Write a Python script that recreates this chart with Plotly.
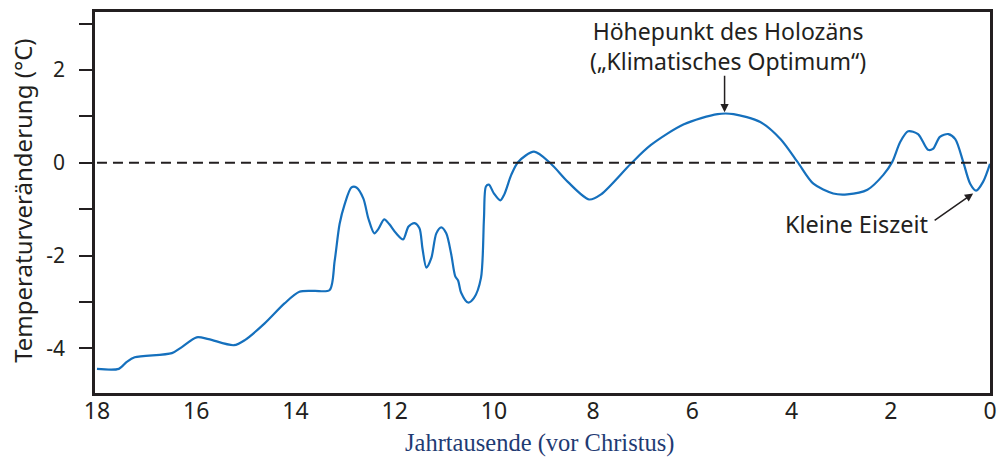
import plotly.graph_objects as go

# Jahrtausende vor Christus (x) and Temperaturveränderung in °C (y)
jahrtausende = [18.0, 17.56, 17.40, 17.24, 16.49, 16.29, 15.99, 15.75, 15.24, 15.02, 14.62, 14.22,
                13.92, 13.62, 13.31, 13.21, 13.11, 13.01, 12.87, 12.77, 12.63, 12.53, 12.41, 12.33,
                12.21, 12.11, 11.97, 11.83, 11.72, 11.60, 11.50, 11.44, 11.36, 11.26, 11.16, 11.06,
                10.96, 10.86, 10.78, 10.72, 10.66, 10.52, 10.40, 10.26, 10.20, 10.16, 10.10, 10.00,
                9.87, 9.79, 9.65, 9.51, 9.19, 8.85, 8.51, 8.08, 7.84, 7.24, 6.84, 6.17, 5.49, 5.17,
                4.63, 4.22, 3.88, 3.56, 3.16, 2.88, 2.47, 2.15, 1.97, 1.81, 1.65, 1.45, 1.25, 1.15,
                1.01, 0.84, 0.70, 0.54, 0.40, 0.28, 0.14, 0.0]
temperatur = [-4.44, -4.44, -4.29, -4.19, -4.10, -3.97, -3.76, -3.80, -3.93, -3.82, -3.46, -3.03,
              -2.78, -2.76, -2.74, -2.12, -1.32, -0.90, -0.53, -0.53, -0.77, -1.20, -1.52, -1.43,
              -1.22, -1.32, -1.52, -1.65, -1.37, -1.30, -1.41, -1.84, -2.26, -2.05, -1.52, -1.39,
              -1.52, -1.97, -2.44, -2.54, -2.80, -3.01, -2.91, -2.48, -1.20, -0.51, -0.47, -0.66,
              -0.81, -0.68, -0.26, 0.02, 0.24, -0.02, -0.41, -0.79, -0.68, -0.02, 0.38, 0.83, 1.05,
              1.05, 0.88, 0.51, 0.02, -0.45, -0.66, -0.68, -0.58, -0.26, 0.02, 0.45, 0.68, 0.62,
              0.28, 0.30, 0.56, 0.62, 0.51, 0.02, -0.45, -0.60, -0.41, -0.02]

x_ticks = [18, 16, 14, 12, 10, 8, 6, 4, 2, 0]
y_ticks = [-4, -3, -2, -1, 0, 1, 2, 3]
y_ticktext = ["-4", "", "-2", "", "0", "", "2", ""]

ink = "#231f20"
font = "Noto Sans"

fig = go.Figure()
fig.add_trace(go.Scatter(
    x=jahrtausende, y=temperatur, mode="lines",
    line=dict(color="#1570bd", width=2.2, shape="spline", smoothing=0.8),
    hoverinfo="skip", showlegend=False))

fig.add_shape(type="line", xref="x", yref="y", x0=x_ticks[0], x1=x_ticks[-1], y0=0, y1=0,
              line=dict(color=ink, width=2, dash="10px,6px"))

fig.update_layout(
    width=1007, height=460,
    margin=dict(l=95, r=17, t=9, b=67),
    paper_bgcolor="white", plot_bgcolor="white",
    font=dict(family=font, color=ink, size=21),
    xaxis=dict(range=[18.04, 0], tickvals=x_ticks, ticktext=[str(v) for v in x_ticks],
               showgrid=False, zeroline=False, showline=True, linecolor=ink, linewidth=2.5,
               mirror=True, ticks="", ticklen=0, ticklabelstandoff=-4,
               tickfont=dict(family=font, size=23, color=ink)),
    yaxis=dict(range=[-4.96, 3.25], tickvals=y_ticks, ticktext=y_ticktext,
               showgrid=False, zeroline=False, showline=True, linecolor=ink, linewidth=2.5,
               mirror=True, ticks="outside", ticklen=13, tickwidth=1.5, tickcolor=ink,
               ticklabelstandoff=10,
               tickfont=dict(family=font, size=21, color=ink)),
)

# axis titles
fig.add_annotation(xref="paper", yref="paper", x=-0.081, y=0.503, text="Temperaturveränderung (°C)",
                   textangle=-90, showarrow=False, xanchor="center", yanchor="middle",
                   font=dict(family=font, size=24, color=ink))
fig.add_annotation(xref="paper", yref="paper", x=0.497, y=-0.13, text="Jahrtausende (vor Christus)",
                   showarrow=False, xanchor="center", yanchor="middle",
                   font=dict(family="Liberation Serif", size=24.5, color="#1f3b73"))

# labels and arrows
fig.add_annotation(xref="x", yref="y", x=5.29, y=2.52,
                   text="Höhepunkt des Holozäns<br>(„Klimatisches Optimum“)",
                   showarrow=False, xanchor="center", yanchor="middle",
                   font=dict(family=font, size=23, color=ink))
fig.add_annotation(xref="x", yref="y", x=5.35, y=1.09, text="", showarrow=True,
                   ax=0, ay=-38, arrowhead=2, arrowsize=1.1, arrowwidth=1.5, arrowcolor=ink)
fig.add_annotation(xref="x", yref="y", x=1.2, y=-1.32, text="Kleine Eiszeit",
                   showarrow=False, xanchor="right", yanchor="middle",
                   font=dict(family=font, size=23.5, color=ink))
fig.add_annotation(xref="x", yref="y", x=0.34, y=-0.66, text="", showarrow=True,
                   ax=-40, ay=28, arrowhead=2, arrowsize=1.1, arrowwidth=1.5, arrowcolor=ink)

# remove the page's default body margin so the figure fills the window exactly
fig.write_html("out.html", config={"displayModeBar": False},
               post_script="document.body.style.margin='0';document.body.style.overflow='hidden';")
